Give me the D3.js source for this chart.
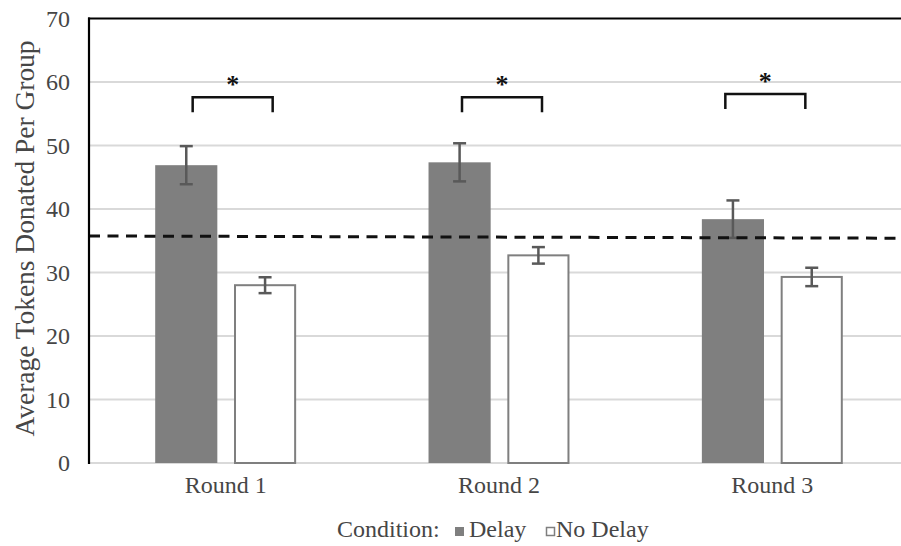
<!DOCTYPE html>
<html>
<head>
<meta charset="utf-8">
<script src="https://cdn.jsdelivr.net/npm/d3@7"></script>
<style>
  html, body { margin: 0; padding: 0; background: #fff; }
  svg { display: block; }
  text { font-family: "Liberation Serif", "Times New Roman", serif; }
</style>
</head>
<body>
<svg id="chart" width="901" height="546" font-family="Liberation Serif, Times New Roman, serif"></svg>
<script>
// ---- data ----
const rounds = ["Round 1", "Round 2", "Round 3"];
const seriesNames = ["Delay", "No Delay"];
const delayMeans = [46.9, 47.35, 38.4];
const delayErrors = [3.0, 3.0, 2.95];
const noDelayMeans = [28.0, 32.7, 29.3];
const noDelayErrors = [1.25, 1.3, 1.45];
const yTicks = [0, 10, 20, 30, 40, 50, 60, 70];
const referenceLine = [35.75, 35.4];   // dashed line value at left / right
const sigLabels = ["*", "*", "*"];
const sigBracketValue = [57.6, 57.6, 58.1];
const yTitle = "Average Tokens Donated Per Group";
const legendTitle = "Condition:";

// ---- layout ----
const svg = d3.select("#chart");
const pLeft = 89, pRight = 909, pTop = 18.5, pBottom = 463;
const bracketNudge = [7, 3, -7];   // hand-placed annotation offsets (px)
const y = d3.scaleLinear().domain([0, 70]).range([pBottom, pTop]);
const x0 = d3.scaleBand().domain(rounds).range([pLeft, pRight]).padding(0);
const x1 = d3.scaleBand().domain(seriesNames).range([0, x0.bandwidth()])
  .paddingInner(0.2115).paddingOuter(0.84);

const rows = rounds.map((r, i) => ({
  round: r,
  vals: [
    { s: "Delay", v: delayMeans[i], e: delayErrors[i] },
    { s: "No Delay", v: noDelayMeans[i], e: noDelayErrors[i] }
  ]
}));

const textColor = "#464646";

// gridlines
svg.append("g").selectAll("line").data(yTicks.filter(t => t < 70)).join("line")
  .attr("x1", pLeft).attr("x2", 901)
  .attr("y1", d => y(d)).attr("y2", d => y(d))
  .attr("stroke", "#d9d9d9").attr("stroke-width", 2);

// y tick labels
svg.append("g").selectAll("text").data(yTicks).join("text")
  .attr("x", 70).attr("y", d => y(d) + 8)
  .attr("text-anchor", "end")
  .attr("font-size", 24).attr("fill", textColor)
  .text(d => d);

// y title
svg.append("text")
  .attr("transform", `translate(34, 238.5) rotate(-90)`)
  .attr("text-anchor", "middle")
  .attr("font-size", 26.5).attr("fill", textColor)
  .attr("textLength", 396).attr("lengthAdjust", "spacingAndGlyphs")
  .text(yTitle);

// bars
const groups = svg.append("g").selectAll("g").data(rows).join("g")
  .attr("transform", d => `translate(${x0(d.round)},0)`);

groups.selectAll("rect").data(d => d.vals).join("rect")
  .attr("x", d => x1(d.s) + (d.s === "No Delay" ? 1 : 0))
  .attr("width", d => x1.bandwidth() - (d.s === "No Delay" ? 2 : 0))
  .attr("y", d => y(d.v))
  .attr("height", d => y(0) - y(d.v))
  .attr("fill", d => d.s === "Delay" ? "#7f7f7f" : "#ffffff")
  .attr("stroke", d => d.s === "Delay" ? "none" : "#7f7f7f")
  .attr("stroke-width", 2);

// error bars
const eb = groups.selectAll("g.err").data(d => d.vals).join("g").attr("class", "err")
  .attr("stroke", "#595959").attr("stroke-width", 2.5);
eb.append("line")
  .attr("x1", d => x1(d.s) + x1.bandwidth() / 2).attr("x2", d => x1(d.s) + x1.bandwidth() / 2)
  .attr("y1", d => y(d.v + d.e)).attr("y2", d => y(d.v - d.e));
eb.append("line")
  .attr("x1", d => x1(d.s) + x1.bandwidth() / 2 - 6.5).attr("x2", d => x1(d.s) + x1.bandwidth() / 2 + 6.5)
  .attr("y1", d => y(d.v + d.e)).attr("y2", d => y(d.v + d.e));
eb.append("line")
  .attr("x1", d => x1(d.s) + x1.bandwidth() / 2 - 6.5).attr("x2", d => x1(d.s) + x1.bandwidth() / 2 + 6.5)
  .attr("y1", d => y(d.v - d.e)).attr("y2", d => y(d.v - d.e));

// dashed reference line
svg.append("line")
  .attr("x1", pLeft).attr("x2", 901)
  .attr("y1", y(referenceLine[0])).attr("y2", y(referenceLine[1]))
  .attr("stroke", "#111").attr("stroke-width", 3)
  .attr("stroke-dasharray", "11,7.5");

// significance brackets
rounds.forEach((r, i) => {
  const cx = x0(r) + x0.bandwidth() / 2 + bracketNudge[i];
  const by = y(sigBracketValue[i]);
  const legY = by + 15;
  svg.append("path")
    .attr("d", `M${cx - 40},${legY}V${by}H${cx + 40}V${legY}`)
    .attr("fill", "none").attr("stroke", "#111").attr("stroke-width", 2.5);
  svg.append("text")
    .attr("x", cx).attr("y", by - 4)
    .attr("text-anchor", "middle")
    .attr("font-size", 26).attr("font-weight", "bold").attr("fill", "#111")
    .text(sigLabels[i]);
});

// axes lines
svg.append("line").attr("x1", pLeft).attr("x2", pLeft).attr("y1", pTop - 1).attr("y2", pBottom + 1)
  .attr("stroke", "#000").attr("stroke-width", 2.2);
svg.append("line").attr("x1", pLeft - 1).attr("x2", 901).attr("y1", pTop).attr("y2", pTop)
  .attr("stroke", "#000").attr("stroke-width", 2.2);

// x labels
svg.append("g").selectAll("text").data(rounds).join("text")
  .attr("x", d => x0(d) + x0.bandwidth() / 2)
  .attr("y", 493)
  .attr("text-anchor", "middle")
  .attr("font-size", 24).attr("fill", textColor)
  .text(d => d);

// legend
const lg = svg.append("g");
lg.append("text").attr("x", 337).attr("y", 537).attr("font-size", 24).attr("fill", textColor).text(legendTitle);
lg.append("rect").attr("x", 455).attr("y", 527).attr("width", 9).attr("height", 9).attr("fill", "#7f7f7f");
lg.append("text").attr("x", 469).attr("y", 537).attr("font-size", 24).attr("fill", textColor).text(seriesNames[0]);
lg.append("rect").attr("x", 546.5).attr("y", 527.5).attr("width", 8).attr("height", 8)
  .attr("fill", "#fff").attr("stroke", "#7f7f7f").attr("stroke-width", 1.5);
lg.append("text").attr("x", 556).attr("y", 537).attr("font-size", 24).attr("fill", textColor).text(seriesNames[1]);
</script>
</body>
</html>
